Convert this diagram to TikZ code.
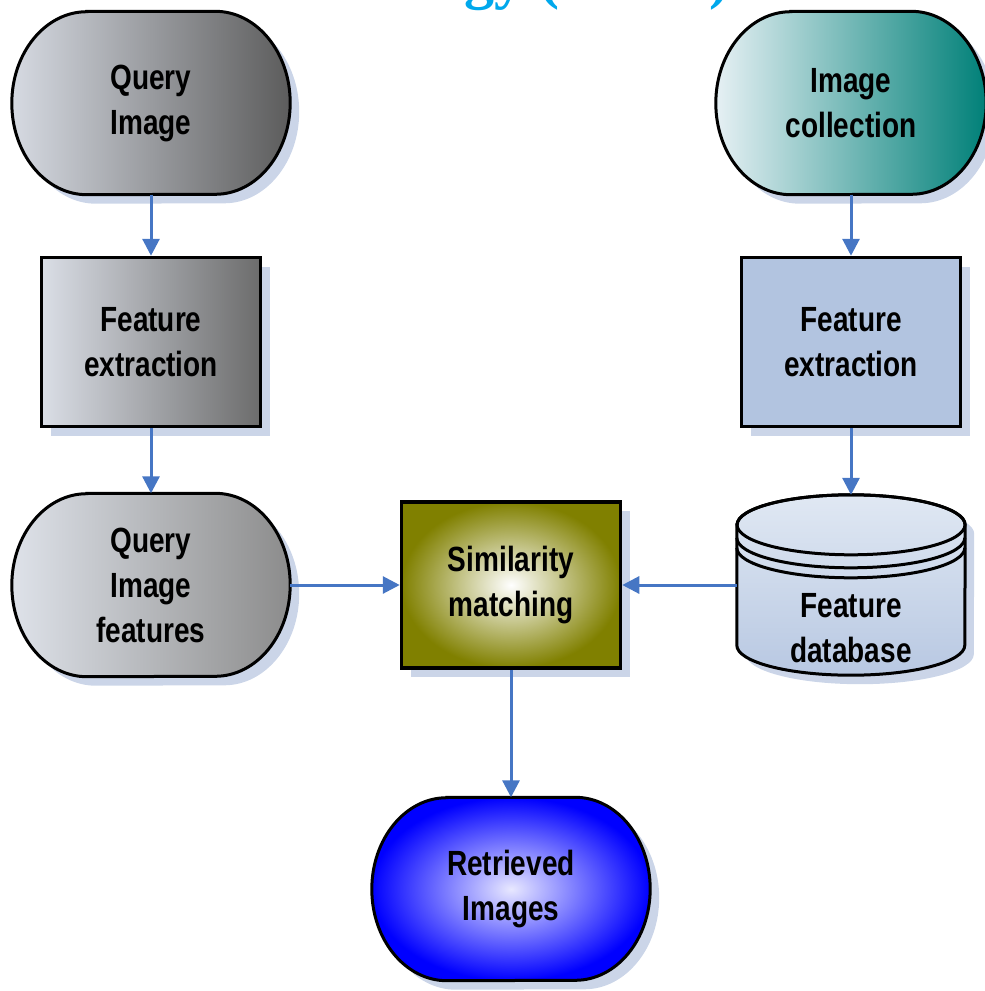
\documentclass[tikz,border=0pt]{standalone}
\usepackage{fontspec}
\setmainfont{Liberation Sans}
\newfontfamily\boxfont[FakeStretch=0.8]{Liberation Sans}
\newfontfamily\titlefont{Liberation Serif}
\usepackage{tikz}
\usetikzlibrary{arrows.meta,calc,positioning,shadows,backgrounds}

\definecolor{shadowblue}{RGB}{203,213,232}
\definecolor{flowblue}{RGB}{70,118,196}
\definecolor{titlecyan}{RGB}{0,168,236}
\definecolor{qimgL}{RGB}{214,218,226}
\definecolor{qimgR}{RGB}{92,92,92}
\definecolor{qfeL}{RGB}{218,222,230}
\definecolor{qfeR}{RGB}{108,108,108}
\definecolor{qfeatL}{RGB}{222,226,233}
\definecolor{qfeatR}{RGB}{140,140,140}
\definecolor{icolL}{RGB}{230,240,244}
\definecolor{icolR}{RGB}{0,128,120}
\definecolor{ifeEdge}{RGB}{178,196,224}
\definecolor{ifeMid}{RGB}{236,241,248}
\definecolor{dbTop}{RGB}{224,232,243}
\definecolor{dbBot}{RGB}{184,200,226}
\definecolor{simOlive}{RGB}{128,128,0}
\definecolor{retBlue}{RGB}{0,0,255}
\definecolor{retLight}{RGB}{232,232,255}

% terminal outline round a node: #1 node, #2 shift, #3 path options
\newcommand{\termpath}[3]{%
  \path[#3] ([shift={#2}, xshift=75pt]#1.north west) -- ([shift={#2}, xshift=-75pt]#1.north east)
    arc[start angle=90, end angle=-90, x radius=75pt, y radius=91.5pt]
    -- ([shift={#2}, xshift=75pt]#1.south west)
    arc[start angle=270, end angle=90, x radius=75pt, y radius=91.5pt] -- cycle;}

% cylinder body round a node: #1 node, #2 shift, #3 path options
\newcommand{\cylpath}[3]{%
  \path[#3] ([shift={#2}, yshift=-30pt]#1.north west) -- ([shift={#2}, yshift=30pt]#1.south west)
    arc[start angle=180, end angle=360, x radius=114pt, y radius=30pt]
    -- ([shift={#2}, yshift=-30pt]#1.north east)
    arc[start angle=0, end angle=180, x radius=114pt, y radius=30pt] -- cycle;}

\begin{document}
\begin{tikzpicture}[
    x=1pt, y=-1pt,
    nosep/.style={inner sep=0},
    boxtext/.style={font=\boxfont\bfseries\fontsize{35}{45}\selectfont, align=center, text=black},
    term/.style={boxtext, nosep, minimum width=278pt, minimum height=183pt},
    procbox/.style={boxtext, nosep, rectangle, draw=black, line width=3.5pt,
        minimum width=219pt, minimum height=169pt,
        drop shadow={shadow xshift=9pt, shadow yshift=-9pt, fill=shadowblue, opacity=1}},
    flow/.style={draw=flowblue, line width=3pt, -{Triangle[length=17pt, width=17pt]}}]
\useasboundingbox (0,0) rectangle (985,991);

\node[nosep, anchor=base east, text=titlecyan, font=\titlefont\bfseries\fontsize{60}{60}\selectfont] (title) at (730,-3) {Technology (CBIR)};

% left column
\node[term] (qimg) at (151,103) {Query\\Image};
\node[procbox, left color=qfeL, right color=qfeR] (qfe) at (151,342) {Feature\\extraction};
\node[term] (qfeat) at (151,585) {Query\\Image\\features};

% right column
\node[term, minimum width=270pt] (icol) at (851,103) {Image\\collection};
\node[procbox, left color=ifeEdge, middle color=ifeMid, right color=ifeEdge] (ife) at (851,342) {Feature\\extraction};
\node[nosep, minimum width=228pt, minimum height=180pt] (db) at (851,585) {};
\node[boxtext, nosep] (dbtext) at (851,628) {Feature\\database};

% middle
\node[procbox, inner color=white, outer color=simOlive, minimum height=166pt] (sim) at (511,585) {Similarity\\matching};
\node[term] (ret) at (511,889) {Retrieved\\Images};

\begin{scope}[on background layer]
\termpath{qimg}{(9,9)}{fill=shadowblue}
\termpath{qimg}{(0,0)}{draw=black, line width=3pt, left color=qimgL, right color=qimgR}
\termpath{qfeat}{(9,9)}{fill=shadowblue}
\termpath{qfeat}{(0,0)}{draw=black, line width=3pt, left color=qfeatL, right color=qfeatR}
\termpath{icol}{(9,9)}{fill=shadowblue}
\termpath{icol}{(0,0)}{draw=black, line width=3pt, left color=icolL, right color=icolR}
\termpath{ret}{(9,9)}{fill=shadowblue}
\termpath{ret}{(0,0)}{draw=black, line width=3pt, inner color=retLight, outer color=retBlue}
\cylpath{db}{(9,9)}{fill=shadowblue}
\cylpath{db}{(0,0)}{draw=black, line width=3pt, top color=dbTop, bottom color=dbBot}
\path[draw=black, line width=3pt] ([yshift=-30pt]db.north) ellipse[x radius=114pt, y radius=30pt];
\path[draw=black, line width=3pt] ([yshift=-43pt]db.north west) arc[start angle=180, end angle=360, x radius=114pt, y radius=30pt];
\path[draw=black, line width=3pt] ([yshift=-53pt]db.north west) arc[start angle=180, end angle=360, x radius=114pt, y radius=30pt];
\end{scope}

% connectors
\path[flow] (qimg.south) -- (qfe.north);
\path[flow] (qfe.south) -- (qfeat.north);
\path[flow] (icol.south) -- (ife.north);
\path[flow] (ife.south) -- (db.north);
\path[flow] (qfeat.east) -- (sim.west);
\path[flow] (db.west) -- (sim.east);
\path[flow] (sim.south) -- (ret.north);

\end{tikzpicture}
\end{document}
